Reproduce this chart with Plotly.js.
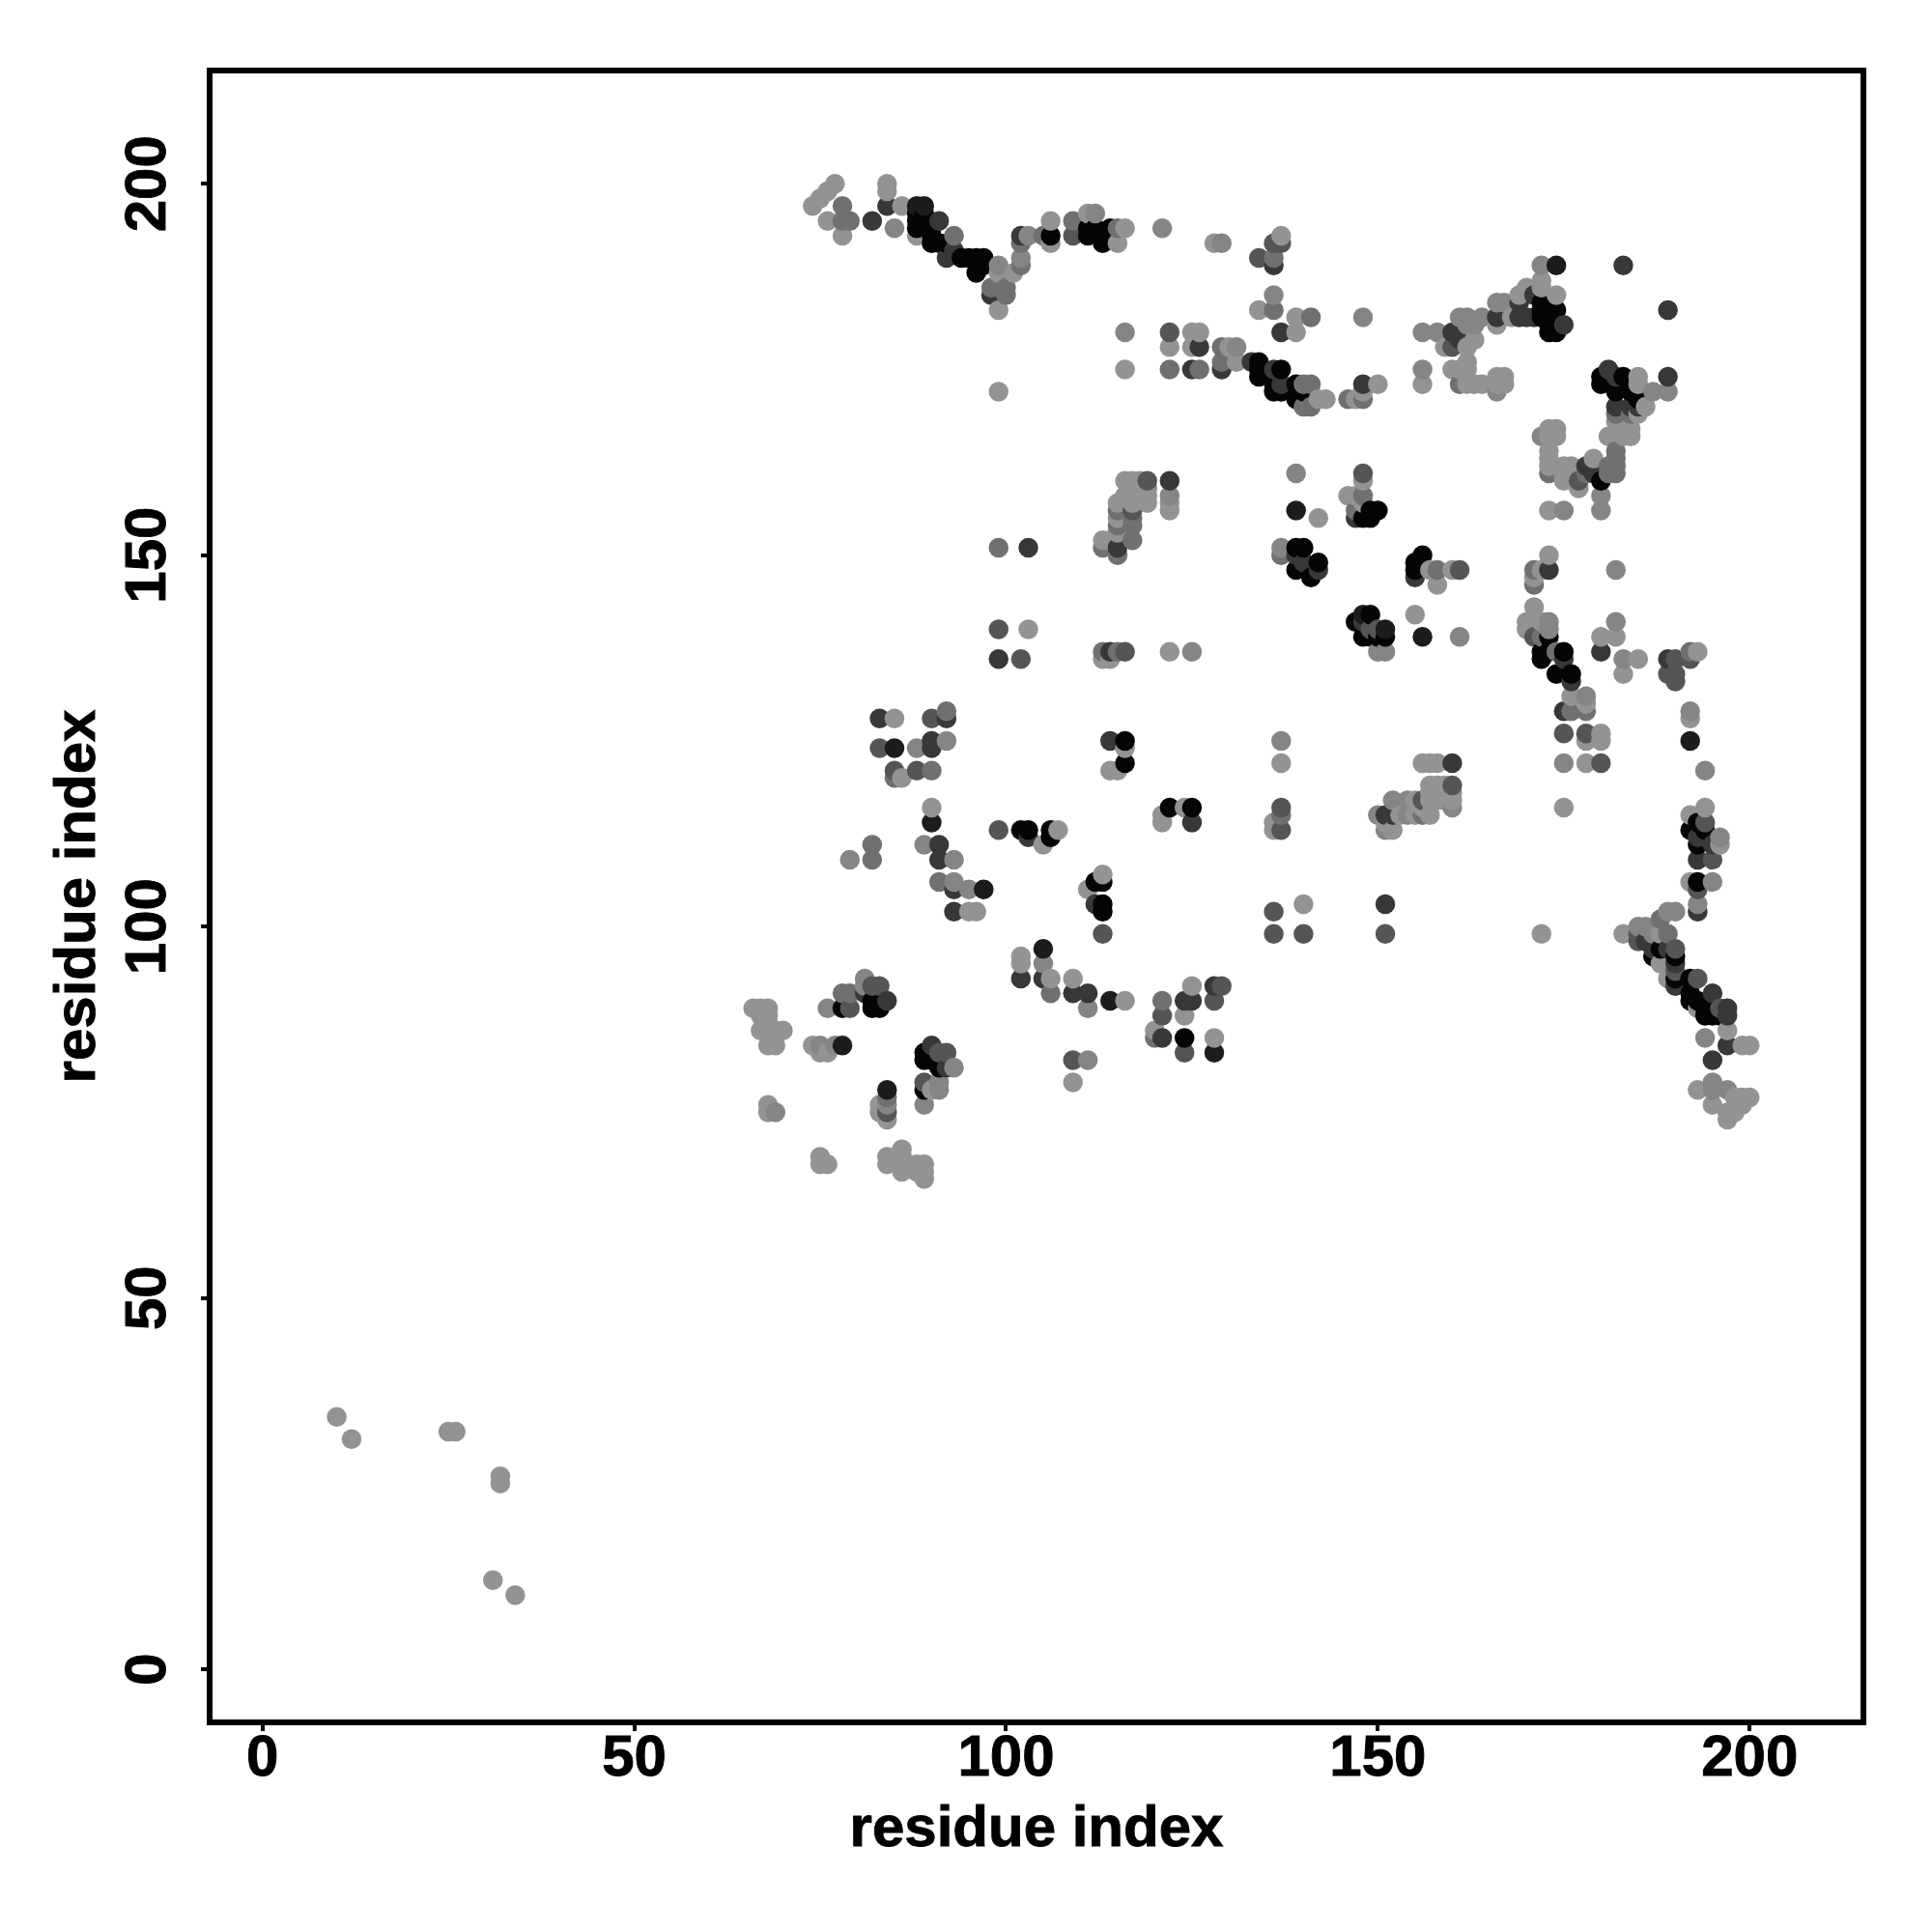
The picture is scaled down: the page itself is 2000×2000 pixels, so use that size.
<!DOCTYPE html>
<html><head><meta charset="utf-8">
<script src="https://cdn.plot.ly/plotly-3.0.1.min.js"></script>
<style>html,body{margin:0;padding:0;background:#fff}
.xtick text,.ytick text,.g-xtitle text,.g-ytitle text{stroke:#000;stroke-width:0.9px}
.g-xtitle{transform:translateY(15px)}</style></head>
<body><div id="chart" style="width:2000px;height:2000px"></div>
<script>
// Each shade holds [i, j] residue pairs
const shade147 = [[10,34],[12,31],[25,32],[26,32],[32,26],[32,25],[31,12],[34,10],[77,200],[76,199],[75,198],[74,197],[76,195],[78,193],[84,200],[84,199],[86,197],[88,193],[99,188],[99,183],[101,188],[106,195],[106,192],[115,192],[116,194],[111,196],[128,192],[99,172],[116,175],[122,178],[125,180],[126,180],[125,178],[130,178],[131,176],[137,193],[134,183],[139,182],[139,180],[143,171],[142,171],[147,171],[150,173],[148,172],[156,173],[160,175],[161,175],[159,178],[163,179],[162,178],[162,176],[162,175],[162,173],[163,173],[164,173],[166,174],[167,174],[166,173],[167,173],[166,181],[168,182],[169,185],[170,186],[172,187],[172,186],[174,185],[185,174],[185,173],[186,170],[185,169],[182,168],[184,167],[183,166],[184,166],[181,166],[173,167],[174,167],[173,166],[174,166],[173,164],[173,163],[173,162],[175,162],[176,162],[175,160],[175,161],[179,163],[177,159],[173,156],[148,160],[146,158],[147,158],[148,157],[142,155],[173,150],[157,148],[160,148],[158,146],[155,142],[103,140],[116,160],[117,160],[118,160],[119,159],[119,158],[119,157],[117,159],[117,158],[117,157],[116,158],[115,157],[115,155],[115,153],[113,152],[114,152],[122,157],[122,156],[113,136],[114,136],[122,137],[116,124],[114,121],[115,121],[137,122],[156,122],[157,122],[158,122],[157,119],[158,119],[159,119],[157,118],[158,118],[159,118],[160,118],[157,117],[158,117],[159,117],[160,117],[157,115],[156,116],[155,117],[155,115],[153,115],[152,113],[151,114],[136,114],[136,113],[124,116],[121,115],[121,114],[107,113],[105,111],[96,102],[95,102],[113,107],[111,105],[140,103],[102,96],[102,95],[106,93],[109,93],[116,90],[125,92],[124,88],[120,86],[128,85],[109,79],[66,89],[67,89],[68,89],[67,88],[68,88],[68,87],[67,86],[68,86],[69,86],[70,86],[68,84],[69,84],[74,84],[75,83],[76,83],[83,76],[83,75],[84,74],[90,78],[68,76],[68,75],[75,69],[75,68],[76,68],[84,69],[84,68],[85,69],[86,70],[86,69],[86,68],[86,67],[88,68],[89,68],[88,67],[89,67],[89,66],[171,143],[170,141],[170,140],[172,141],[176,131],[178,130],[178,125],[180,126],[180,125],[178,122],[175,116],[180,139],[182,139],[183,134],[185,136],[193,137],[192,128],[194,116],[192,115],[196,111],[192,106],[172,99],[183,99],[188,99],[188,95],[189,93],[193,89],[197,86],[199,84],[200,84],[193,78],[195,76],[198,77],[199,77],[200,77],[199,76],[198,75],[197,75],[197,74],[85,128],[86,120],[90,116],[172,148],[171,147]];
const shade133 = [[85,194],[102,190],[103,193],[112,196],[121,194],[129,192],[116,180],[131,178],[136,185],[148,182],[156,180],[156,175],[158,180],[161,182],[162,182],[163,181],[162,181],[164,182],[166,184],[167,184],[166,172],[172,189],[187,172],[189,172],[172,166],[180,158],[180,156],[175,156],[139,161],[137,151],[122,158],[150,137],[151,137],[125,137],[161,139],[137,125],[152,117],[154,117],[160,116],[154,115],[150,115],[151,113],[93,81],[77,84],[75,84],[81,93],[81,92],[76,89],[91,79],[91,78],[89,76],[69,75],[84,76],[178,131],[173,141],[173,140],[175,122],[182,141],[183,136],[192,129],[194,121],[196,112],[195,106],[193,103],[190,102],[189,102],[185,100],[186,100],[187,99],[194,85],[195,79],[195,78],[197,78],[111,89],[105,95],[111,82],[99,189],[88,124],[92,125],[79,109],[89,111],[93,109],[93,106],[95,105],[182,148]];
const shade112 = [[78,195],[79,195],[78,197],[93,193],[100,186],[100,185],[102,192],[102,189],[105,193],[109,195],[115,194],[129,178],[129,176],[122,175],[126,175],[136,190],[136,183],[141,182],[140,173],[141,173],[146,171],[148,171],[140,170],[141,170],[161,173],[184,169],[182,169],[182,164],[182,163],[182,162],[182,161],[181,162],[181,161],[173,161],[178,161],[115,156],[115,154],[117,155],[117,154],[117,152],[113,151],[115,150],[137,150],[113,137],[115,137],[158,148],[99,151],[148,158],[147,156],[121,90],[106,91],[78,91],[79,91],[120,85],[84,77],[176,129],[178,129],[192,137],[188,101],[189,99],[137,115],[156,115],[174,137],[172,139],[99,186],[98,186],[92,129],[85,120],[90,121],[82,111],[82,109],[91,106],[171,148],[171,146]];
const shade85 = [[109,193],[119,160],[122,180],[102,136],[99,140],[148,161],[161,148],[116,137],[160,119],[137,116],[137,113],[136,102],[136,99],[140,99],[151,99],[113,99],[99,113],[117,156],[134,190],[136,192],[137,192],[160,178],[79,89],[83,92],[82,92],[91,83],[92,83],[89,79],[84,75],[121,88],[124,83],[128,90],[129,92],[109,82],[190,136],[189,134],[190,134],[190,133],[192,136],[175,126],[178,126],[180,122],[194,114],[195,109],[193,105],[190,97],[193,93],[190,94],[196,89],[185,98],[185,99],[156,117],[177,160],[150,140],[149,140],[171,139],[90,128],[83,124],[85,121],[88,121]];
const shade56 = [[84,197],[82,195],[91,195],[92,190],[93,191],[102,193],[98,185],[122,160],[125,175],[126,178],[129,175],[133,176],[136,189],[137,180],[136,175],[137,173],[148,173],[160,180],[161,179],[171,185],[169,184],[170,182],[171,182],[166,182],[169,182],[175,181],[181,175],[182,174],[189,174],[182,170],[184,170],[185,170],[178,162],[179,162],[179,161],[183,189],[189,183],[147,155],[139,150],[140,149],[142,148],[155,147],[148,141],[114,137],[103,151],[99,136],[115,151],[114,125],[125,114],[160,122],[103,112],[151,115],[152,115],[112,103],[151,103],[102,93],[105,93],[109,91],[111,91],[125,90],[124,90],[121,85],[128,92],[81,91],[84,90],[90,84],[92,81],[176,133],[175,129],[180,137],[189,136],[193,109],[193,102],[193,112],[194,112],[195,111],[195,91],[197,89],[197,88],[197,84],[195,82],[187,97],[189,97],[186,98],[190,95],[190,92],[175,136],[83,128],[92,128],[90,125],[90,124],[91,111],[91,109],[93,105],[93,102],[173,148]];
const shade28 = [[97,105],[105,97],[114,90],[128,83],[78,84],[84,78],[192,125],[139,156],[156,139],[151,140],[174,189],[88,197],[89,197],[148,142],[85,124],[90,114]];
const shade5 = [[88,196],[88,195],[88,194],[89,196],[89,195],[90,194],[90,193],[91,192],[92,192],[90,192],[94,190],[95,190],[96,190],[97,190],[96,188],[97,189],[106,193],[111,194],[111,193],[112,194],[113,193],[113,192],[114,194],[114,193],[134,176],[134,175],[134,174],[137,175],[136,173],[139,173],[136,172],[137,172],[139,171],[140,172],[172,184],[174,183],[173,183],[172,183],[172,182],[173,181],[173,180],[174,180],[180,174],[180,173],[183,174],[182,172],[184,172],[185,171],[180,160],[148,155],[149,155],[149,156],[150,156],[139,151],[140,151],[142,149],[139,148],[141,147],[156,150],[155,149],[155,148],[149,142],[147,141],[148,139],[149,139],[150,139],[151,139],[122,116],[125,116],[116,125],[116,122],[102,113],[103,113],[106,113],[106,112],[112,106],[113,106],[113,103],[113,102],[124,85],[78,89],[82,90],[82,89],[83,89],[89,83],[89,82],[90,82],[91,81],[89,78],[172,137],[172,136],[173,137],[175,137],[173,139],[174,134],[176,134],[193,114],[192,113],[194,113],[193,111],[193,106],[187,96],[190,96],[190,93],[192,93],[192,91],[192,90],[193,90],[194,89],[194,88],[195,88],[196,88],[188,97]];
const tickValues = [0, 50, 100, 150, 200];
const axisTitle = "residue index";

const shades = [[147, shade147], [133, shade133], [112, shade112], [85, shade85], [56, shade56], [28, shade28], [5, shade5]];
const rows = [];
shades.forEach(([g, list]) => list.forEach(([i, j]) => rows.push({i, j, g})));
rows.sort((a, b) => a.i - b.i || a.j - b.j);

const font = {family: "Liberation Sans, Arial, sans-serif", size: 60, color: "#000", weight: 700};
const axis = {
  tickmode: "array", tickvals: tickValues, ticktext: tickValues.map(String),
  ticks: "outside", ticklen: 6, tickwidth: 4, tickcolor: "#000",
  showline: true, linewidth: 6, linecolor: "#000", mirror: true,
  showgrid: false, zeroline: false, tickfont: font, automargin: false
};
Plotly.newPlot("chart", [{
  type: "scatter", mode: "markers",
  x: rows.map(r => r.i), y: rows.map(r => r.j),
  marker: {size: 20.5, color: rows.map(r => `rgb(${r.g},${r.g},${r.g})`), line: {width: 0}},
  hoverinfo: "skip"
}], {
  width: 2000, height: 2000, showlegend: false,
  paper_bgcolor: "#fff", plot_bgcolor: "#fff",
  margin: {l: 220, r: 74, t: 76, b: 220},
  xaxis: Object.assign({}, axis, {range: [-6.7, 214.9], ticklabelstandoff: -26, title: {text: axisTitle, font, standoff: 6}}),
  yaxis: Object.assign({}, axis, {range: [-6.75, 214.85], tickangle: -90, ticklabelstandoff: 13, ticklabelshift: 9, title: {text: axisTitle, font, standoff: 1}})
}, {displayModeBar: false, staticPlot: true});
</script></body></html>
